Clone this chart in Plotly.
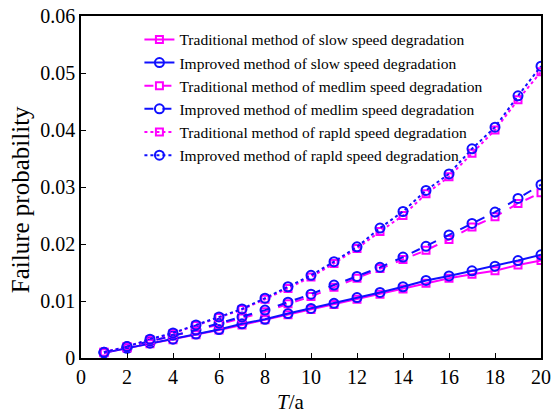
import plotly.graph_objects as go

years = list(range(1, 21))

# failure probability
slow_trad = [0.0009, 0.0017, 0.0025, 0.0032, 0.0041, 0.0049, 0.0058, 0.0067, 0.0076, 0.0085,
             0.0094, 0.0103, 0.0112, 0.0121, 0.0131, 0.0140, 0.0147, 0.0153, 0.0163, 0.0171]
slow_impr = [0.0009, 0.0017, 0.0026, 0.0033, 0.0042, 0.0050, 0.0060, 0.0068, 0.0078, 0.0087,
             0.0096, 0.0106, 0.0115, 0.0125, 0.0136, 0.0144, 0.0153, 0.0161, 0.0171, 0.0181]
med_trad = [0.0010, 0.0019, 0.0029, 0.0039, 0.0048, 0.0059, 0.0070, 0.0081, 0.0095, 0.0108,
            0.0124, 0.0140, 0.0157, 0.0173, 0.0189, 0.0208, 0.0230, 0.0248, 0.0271, 0.0290]
med_impr = [0.0010, 0.0020, 0.0030, 0.0040, 0.0049, 0.0061, 0.0072, 0.0084, 0.0098, 0.0112,
            0.0128, 0.0143, 0.0159, 0.0177, 0.0196, 0.0216, 0.0236, 0.0256, 0.0280, 0.0304]
rapid_trad = [0.0010, 0.0020, 0.0032, 0.0043, 0.0057, 0.0071, 0.0085, 0.0103, 0.0122, 0.0142,
              0.0166, 0.0192, 0.0222, 0.0250, 0.0288, 0.0318, 0.0359, 0.0400, 0.0453, 0.0502]
rapid_impr = [0.0010, 0.0020, 0.0033, 0.0044, 0.0058, 0.0072, 0.0086, 0.0105, 0.0125, 0.0145,
              0.0169, 0.0195, 0.0228, 0.0257, 0.0294, 0.0323, 0.0367, 0.0405, 0.0460, 0.0512]

names = [
    "Traditional method of slow speed degradation",
    "Improved method of slow speed degradation",
    "Traditional method of medlim speed degradation",
    "Improved method of medlim speed degradation",
    "Traditional method of rapld speed degradation",
    "Improved method of rapld speed degradation",
]
series = [slow_trad, slow_impr, med_trad, med_impr, rapid_trad, rapid_impr]
dashes = ["solid", "solid", "dash", "dash", "dot", "dot"]

MAG = "#ff00ff"
BLUE = "#1010ff"

fig = go.Figure()
for i, (nm, ys) in enumerate(zip(names, series)):
    trad = i % 2 == 0
    col = MAG if trad else BLUE
    fig.add_trace(go.Scatter(
        x=years, y=ys, name=nm, mode="lines+markers",
        line=dict(color=col, width=2, dash=dashes[i]),
        marker=dict(symbol="square-open" if trad else "circle-open",
                    size=7 if trad else 9, color=col, line=dict(width=2, color=col)),
    ))

axis_common = dict(showline=True, linecolor="black", linewidth=1.5, mirror=True,
                   ticks="inside", ticklen=5, tickcolor="black", showgrid=False,
                   zeroline=False, automargin=False,
                   tickfont=dict(size=20, color="black"))

fig.update_layout(
    width=554, height=419,
    margin=dict(l=81, r=13, t=16, b=61),
    paper_bgcolor="white", plot_bgcolor="white",
    font=dict(family="Liberation Serif", color="black"),
    legend=dict(x=0.127, y=0.98, xanchor="left", yanchor="top",
                bgcolor="rgba(255,255,255,0)", font=dict(size=15.5),
                tracegroupgap=0),
    xaxis=dict(range=[0, 20], dtick=2, **axis_common),
    yaxis=dict(range=[0, 0.06], dtick=0.01, **axis_common),
    annotations=[
        dict(text="<i>T</i>/a", xref="paper", yref="paper", x=0.457, y=-0.13,
             xanchor="center", yanchor="middle", showarrow=False, font=dict(size=21)),
        dict(text="Failure probability", xref="paper", yref="paper", x=-0.13, y=0.462,
             xanchor="center", yanchor="middle", textangle=-90, showarrow=False,
             font=dict(size=25)),
    ],
)

# drop the default 8px page margin so the figure sits at the window corner
fig.write_html("out.html", config={"displayModeBar": False},
               post_script="document.body.style.margin='0';")
